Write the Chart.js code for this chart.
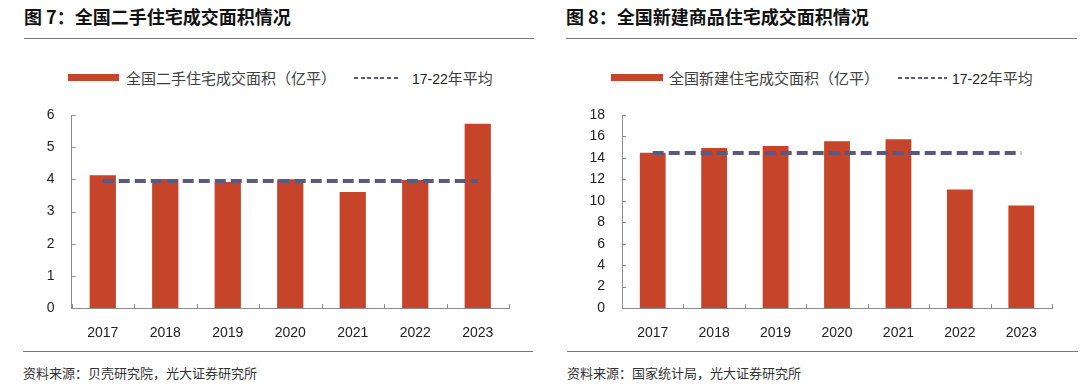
<!DOCTYPE html>
<html>
<head>
<meta charset="utf-8">
<script src="https://cdn.jsdelivr.net/npm/chart.js@4.4.1/dist/chart.umd.min.js"></script>
<style>
  body { margin: 0; background: #fff; }
  #page { position: relative; width: 1080px; height: 390px; overflow: hidden;
          font-family: "Noto Sans CJK SC", "Liberation Sans", sans-serif; }
  .abs { position: absolute; white-space: nowrap; }
  .title { font-size: 18px; font-weight: bold; color: #111; line-height: 18px; }
  .rule { height: 0; border-top: 1.5px solid #777; }
  .legtext { font-size: 15px; color: #404040; line-height: 15px; }
  .legnum { font-family: "Liberation Sans", sans-serif; font-size: 14px; color: #222; }
  .swatch { height: 7px; background: #c5442a; }
  .dash { height: 2px; background: repeating-linear-gradient(90deg, #5a5a7e 0 4px, transparent 4px 6.6px); }
  .src { font-size: 13px; color: #333; line-height: 13px; }
  canvas { position: absolute; }
</style>
</head>
<body>
<div id="page">
  <!-- 左：二手住宅 -->
  <div class="abs title" style="left:24px; top:7px;">图 7：全国二手住宅成交面积情况</div>
  <div class="abs rule" style="left:24px; top:38px; width:510px;"></div>
  <div class="abs swatch" style="left:68px; top:74px; width:51px;"></div>
  <div class="abs legtext" style="left:126px; top:70px;">全国二手住宅成交面积（亿平）</div>
  <div class="abs dash" style="left:354px; top:77px; width:46px;"></div>
  <div class="abs legtext" style="left:412px; top:70px;"><span class="legnum">17-22</span>年平均</div>
  <canvas id="chartLeft" width="540" height="250" style="left:0; top:100px;"></canvas>
  <div class="abs rule" style="left:23px; top:351px; width:510px;"></div>
  <div class="abs src" style="left:23px; top:366px;">资料来源：贝壳研究院，光大证券研究所</div>

  <!-- 右：新建商品住宅 -->
  <div class="abs title" style="left:566px; top:7px;">图 8：全国新建商品住宅成交面积情况</div>
  <div class="abs rule" style="left:566px; top:38px; width:511px;"></div>
  <div class="abs swatch" style="left:611px; top:74px; width:52px;"></div>
  <div class="abs legtext" style="left:669px; top:70px;">全国新建住宅成交面积（亿平）</div>
  <div class="abs dash" style="left:898px; top:77px; width:49px;"></div>
  <div class="abs legtext" style="left:952px; top:70px;"><span class="legnum">17-22</span>年平均</div>
  <canvas id="chartRight" width="540" height="250" style="left:540px; top:100px;"></canvas>
  <div class="abs rule" style="left:567px; top:351px; width:511px;"></div>
  <div class="abs src" style="left:567px; top:366px;">资料来源：国家统计局，光大证券研究所</div>
</div>

<script>
const years = ["2017", "2018", "2019", "2020", "2021", "2022", "2023"];

// 二手住宅成交面积（亿平）
const resaleArea = [4.13, 4.01, 3.92, 4.0, 3.61, 3.98, 5.73];
const resaleAvg = [3.95, 3.95, 3.95, 3.95, 3.95, 3.95, 3.95];

// 新建住宅成交面积（亿平）
const newArea = [14.49, 14.93, 15.11, 15.55, 15.74, 11.05, 9.56];
const newAvg = [14.46, 14.46, 14.46, 14.46, 14.46, 14.46, 14.46];

const BAR_COLOR = "#c5442a";
const LINE_COLOR = "#5a5a7e";
const AXIS_COLOR = "#8c8c8c";
const tickFont = { family: "'Liberation Sans', Arial, sans-serif", size: 14 };

// inward tick marks (the source chart draws them inside the plot)
const innerTicks = {
  id: "innerTicks",
  afterDraw(chart) {
    const { ctx, chartArea } = chart;
    const x = chart.scales.x;
    const y = chart.scales.y;
    ctx.save();
    ctx.strokeStyle = AXIS_COLOR;
    ctx.lineWidth = 1;
    ctx.beginPath();
    y.ticks.forEach((t, i) => {
      const py = Math.round(y.getPixelForTick(i)) + 0.5;
      ctx.moveTo(chartArea.left, py);
      ctx.lineTo(chartArea.left + 4, py);
    });
    for (let i = 0; i <= x.ticks.length; i++) {
      const px = Math.round(x.getPixelForValue(i - 0.5)) + 0.5;
      ctx.moveTo(px, chartArea.bottom);
      ctx.lineTo(px, chartArea.bottom - 4);
    }
    ctx.stroke();
    ctx.restore();
  },
};

function makeChart(id, bars, avg, barLabel, yMax, yStep, pad) {
  const ctx = document.getElementById(id).getContext("2d");
  return new Chart(ctx, {
    type: "bar",
    data: {
      labels: years,
      datasets: [
        {
          type: "line",
          label: "17-22年平均",
          data: avg,
          borderColor: LINE_COLOR,
          borderWidth: 4,
          borderDash: [11, 5],
          pointRadius: 0,
          fill: false,
          order: 0,
        },
        {
          type: "bar",
          label: barLabel,
          data: bars,
          backgroundColor: BAR_COLOR,
          barPercentage: 0.42,
          categoryPercentage: 1,
          order: 1,
        },
      ],
    },
    options: {
      responsive: false,
      animation: false,
      layout: { padding: pad },
      plugins: {
        legend: { display: false },
        tooltip: { enabled: false },
      },
      scales: {
        x: {
          grid: { display: false, drawTicks: false },
          border: { color: AXIS_COLOR, width: 1 },
          ticks: { font: tickFont, color: "#222", padding: 17, maxRotation: 0 },
          afterFit: (s) => { s.height = 42; },
        },
        y: {
          min: 0,
          max: yMax,
          grid: { display: false, drawTicks: false },
          border: { color: AXIS_COLOR, width: 1 },
          ticks: { stepSize: yStep, font: tickFont, color: "#222", padding: 17 },
          afterFit: (s) => {
            s.width = 56;
            s.paddingTop = 0;
            s.paddingBottom = 0;
          },
        },
      },
    },
    plugins: [innerTicks],
  });
}

makeChart("chartLeft", resaleArea, resaleAvg, "全国二手住宅成交面积（亿平）", 6, 1,
  { left: 15.5, right: 31, top: 15, bottom: 0 });
makeChart("chartRight", newArea, newAvg, "全国新建住宅成交面积（亿平）", 18, 2,
  { left: 26, right: 28, top: 15, bottom: 0 });
</script>
</body>
</html>
